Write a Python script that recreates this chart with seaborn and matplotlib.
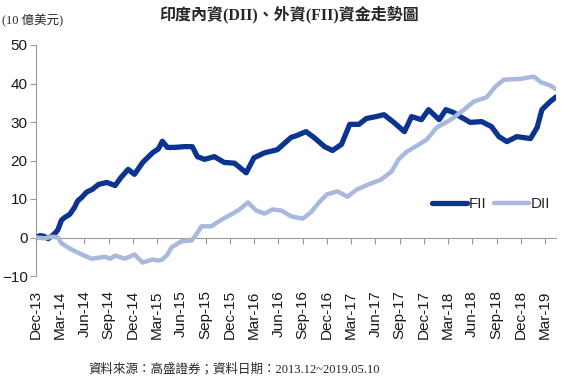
import pandas as pd
import matplotlib.pyplot as plt
import matplotlib.dates as mdates
import seaborn as sns

# values (billion USD, cumulative flows)
fii_dates = ['2013-12-01', '2013-12-16', '2014-01-01', '2014-01-16', '2014-02-01', '2014-02-16',
             '2014-02-22', '2014-03-07', '2014-03-19', '2014-04-07', '2014-04-25', '2014-05-07',
             '2014-05-22', '2014-06-10', '2014-07-01', '2014-07-25', '2014-08-25', '2014-09-25',
             '2014-10-16', '2014-11-13', '2014-12-07', '2015-01-07', '2015-02-13', '2015-03-07',
             '2015-03-22', '2015-04-10', '2015-05-07', '2015-06-13', '2015-07-13', '2015-08-01',
             '2015-08-28', '2015-10-04', '2015-11-10', '2015-12-19', '2016-02-01', '2016-03-01',
             '2016-04-10', '2016-05-28', '2016-07-19', '2016-08-10', '2016-09-13', '2016-10-13',
             '2016-11-22', '2016-12-22', '2017-01-25', '2017-02-25', '2017-04-01', '2017-04-28',
             '2017-06-04', '2017-07-04', '2017-08-10', '2017-09-19', '2017-10-16', '2017-11-22',
             '2017-12-19', '2018-01-28', '2018-02-22', '2018-03-22', '2018-04-22', '2018-05-25',
             '2018-07-07', '2018-08-13', '2018-09-10', '2018-10-10', '2018-11-16', '2019-01-07',
             '2019-02-01', '2019-02-19', '2019-03-22', '2019-04-13']
fii_values = [0.0, 0.5, 0.3, -0.3, 0.5, 1.5,
              2.1, 4.5, 5.2, 6.0, 7.8, 9.5,
              10.4, 11.8, 12.5, 13.8, 14.3, 13.5,
              15.5, 17.7, 16.4, 19.5, 22.0, 23.0,
              25.0, 23.4, 23.4, 23.6, 23.6, 21.0,
              20.3, 21.0, 19.5, 19.3, 16.8, 20.7,
              22.0, 22.8, 26.0, 26.5, 27.5, 26.0,
              23.6, 22.6, 24.2, 29.4, 29.4, 30.9,
              31.4, 31.9, 29.9, 27.5, 31.4, 30.6,
              33.2, 30.6, 33.2, 32.5, 31.2, 29.9,
              30.1, 28.8, 26.2, 24.9, 26.2, 25.7,
              28.6, 33.2, 35.3, 36.5]

dii_dates = ['2013-12-01', '2014-01-01', '2014-02-01', '2014-02-22', '2014-03-07', '2014-04-01',
             '2014-04-25', '2014-05-22', '2014-06-28', '2014-07-22', '2014-08-16', '2014-09-07',
             '2014-09-25', '2014-11-01', '2014-12-07', '2015-01-07', '2015-02-13', '2015-03-07',
             '2015-03-22', '2015-04-10', '2015-04-25', '2015-06-01', '2015-07-10', '2015-07-28',
             '2015-08-16', '2015-09-22', '2015-11-01', '2015-12-07', '2016-01-07', '2016-02-07',
             '2016-03-10', '2016-04-10', '2016-05-10', '2016-06-13', '2016-07-19', '2016-09-01',
             '2016-10-01', '2016-11-01', '2016-12-01', '2017-01-10', '2017-02-16', '2017-03-25',
             '2017-05-07', '2017-06-22', '2017-08-01', '2017-08-28', '2017-09-28', '2017-11-07',
             '2017-12-13', '2018-01-19', '2018-03-13', '2018-05-01', '2018-06-07', '2018-07-25',
             '2018-08-28', '2018-09-28', '2018-12-01', '2019-01-19', '2019-02-16', '2019-03-22',
             '2019-04-13']
dii_values = [0.0, -0.2, 0.2, 0.0, -1.5, -2.6,
              -3.5, -4.4, -5.5, -5.3, -5.0, -5.5,
              -4.7, -5.5, -4.4, -6.5, -5.7, -6.0,
              -5.7, -4.5, -2.6, -1.0, -0.8, 0.8,
              2.9, 2.9, 4.7, 6.0, 7.3, 9.1,
              7.0, 6.2, 7.3, 7.0, 5.5, 4.9,
              6.5, 9.1, 11.2, 12.0, 10.6, 12.5,
              13.8, 15.0, 17.1, 20.3, 22.3, 23.9,
              25.5, 28.6, 30.6, 33.2, 35.3, 36.4,
              39.2, 41.0, 41.2, 41.8, 40.3, 39.5,
              38.5]

fii = pd.DataFrame({'date': pd.to_datetime(fii_dates), 'value': fii_values})
dii = pd.DataFrame({'date': pd.to_datetime(dii_dates), 'value': dii_values})

sns.set_style('ticks')
plt.rcParams['font.family'] = ['Liberation Sans', 'Noto Sans CJK TC']

fig = plt.figure(figsize=(5.73, 3.82), dpi=100)
ax = fig.add_axes([36 / 573, 1 - 276 / 382, (556 - 36) / 573, (276 - 45) / 382])

sns.lineplot(data=fii, x='date', y='value', color='#0b3390', lw=3.8, ax=ax, label='FII', zorder=3)
sns.lineplot(data=dii, x='date', y='value', color='#a9b9dd', lw=3.2, ax=ax, label='DII', zorder=4)

gray = '#9a9a9a'
ax.set_ylim(-10, 50)
ax.set_yticks(range(-10, 51, 10))
ax.set_xlim(fii['date'].iloc[0], fii['date'].iloc[-1])
ax.xaxis.set_major_locator(mdates.MonthLocator(bymonth=[3, 6, 9, 12]))
ax.xaxis.set_major_formatter(mdates.DateFormatter('%b-%y'))
ax.set_xlabel('')
ax.set_ylabel('')

for s in ['top', 'right']:
    ax.spines[s].set_visible(False)
ax.spines['bottom'].set_position(('data', 0))
ax.spines['bottom'].set_color(gray)
ax.spines['left'].set_color(gray)
ax.tick_params(axis='x', rotation=90, pad=34, length=4, color=gray, labelsize=11, labelcolor='#1a1a1a')
ax.tick_params(axis='y', length=4, color=gray, labelsize=11, labelcolor='#1a1a1a', pad=2)

ax.legend(loc='center right', bbox_to_anchor=(1.0, 0.31), ncol=2, frameon=False,
          handlelength=2.3, columnspacing=0.5, handletextpad=0.1, fontsize=11,
          borderaxespad=0)

fig.text(0.505, 1 - 15 / 382, '印度內資(DII)、外資(FII)資金走勢圖', ha='center', va='center',
         fontsize=11.5, fontweight='bold', family=['Liberation Serif', 'Noto Sans CJK TC'])
fig.text(2 / 573, 1 - 21 / 382, '(10 億美元)', ha='left', va='center', fontsize=9,
         family=['Liberation Serif', 'Noto Sans CJK TC'])
fig.text(88 / 573, 1 - 369 / 382, '資料來源：高盛證券；資料日期：2013.12~2019.05.10',
         ha='left', va='center', fontsize=9, family=['Liberation Serif', 'Noto Sans CJK TC'])

fig.savefig('out.png', dpi=100)
